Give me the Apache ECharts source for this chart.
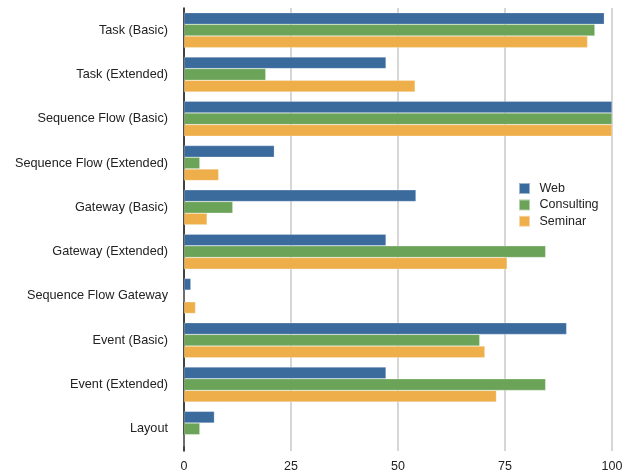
<!DOCTYPE html>
<html><head><meta charset="utf-8">
<script src="https://cdn.jsdelivr.net/npm/echarts@6/dist/echarts.min.js"></script>
<style>html,body{margin:0;padding:0;background:#fff}#c{width:622px;height:471px}</style>
</head><body><div id="c"></div>
<script>
const categories = ["Task (Basic)","Task (Extended)","Sequence Flow (Basic)","Sequence Flow (Extended)","Gateway (Basic)","Gateway (Extended)","Sequence Flow Gateway","Event (Basic)","Event (Extended)","Layout"];
const web        = [98.2, 47.2, 100, 21.1, 54.2, 47.2, 1.6, 89.4, 47.2, 7.1];
const consulting = [96.0, 19.1, 100, 3.7, 11.4, 84.5, 0, 69.1, 84.5, 3.7];
const seminar    = [94.3, 54.0, 100, 8.1, 5.4, 75.5, 2.7, 70.3, 73.0, 0];
const xTicks = [0, 25, 50, 75, 100];

const font = "Helvetica, 'Liberation Sans', Arial, sans-serif";
const chart = echarts.init(document.getElementById('c'), null, {renderer:'canvas'});
const mk = (name, data, color) => ({
  name, type:'bar', data, barGap:'0%', barCategoryGap:'21%',
  itemStyle:{color, borderColor:'rgba(255,255,255,0.5)', borderWidth:0.5},
  emphasis:{disabled:true}, animation:false
});
chart.setOption({
  animation:false,
  grid:{left:184, right:10, top:8, bottom:20, containLabel:false, outerBoundsMode:'none'},
  legend:{
    orient:'vertical', left:513, top:177, itemWidth:11, itemHeight:11, itemGap:3.4,
    icon:'rect', textStyle:{fontFamily:font, fontSize:12.5, lineHeight:11, color:'#222', padding:[0,0,0,4.5]},
    data:['Web','Consulting','Seminar']
  },
  xAxis:{
    type:'value', min:0, max:100, interval:25,
    axisLine:{show:false}, axisTick:{show:false},
    axisLabel:{fontFamily:font, fontSize:12.5, color:'#222', margin:9,
      formatter:v => xTicks.includes(v) ? String(v) : ''},
    splitLine:{show:true, lineStyle:{color:'#c8c8c8', width:1.5}}
  },
  yAxis:{
    type:'category', data:categories, inverse:true,
    axisLine:{show:true, lineStyle:{color:'#111', width:1.5}},
    axisTick:{show:false},
    axisLabel:{fontFamily:font, fontSize:12.7, color:'#222', margin:16, padding:[3,0,0,0]}
  },
  series:[mk('Web', web, '#3B6A9D'), mk('Consulting', consulting, '#6BA358'), mk('Seminar', seminar, '#EEAF4B')]
});
</script></body></html>
